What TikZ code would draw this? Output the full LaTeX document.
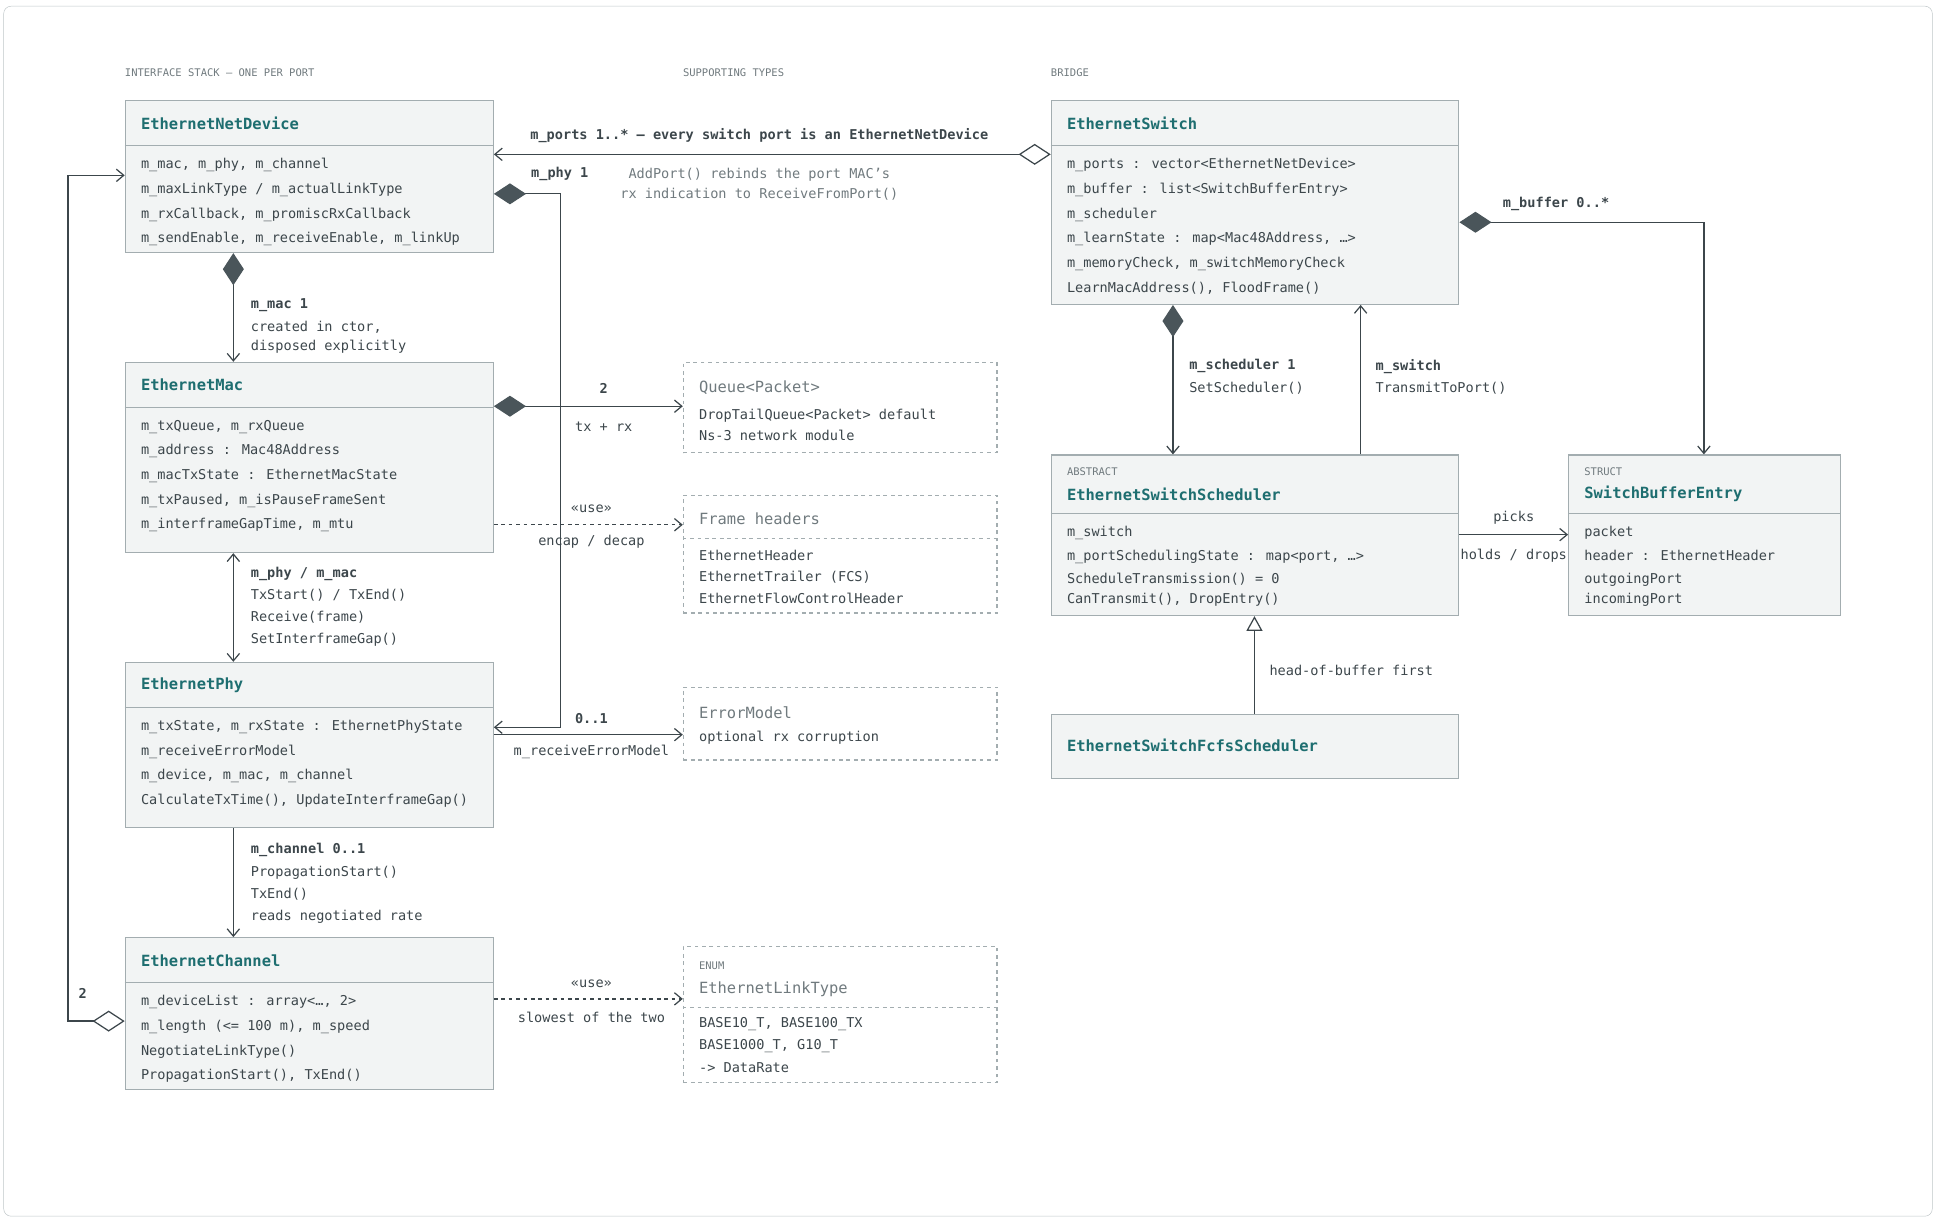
\documentclass[tikz,border=0pt]{standalone}
\usepackage{fontspec}
\setmainfont{DejaVu Sans Mono}
\setmonofont{DejaVu Sans Mono}
\usetikzlibrary{arrows.meta,positioning,calc}

\definecolor{boxfill}{HTML}{F2F4F4}
\definecolor{boxline}{HTML}{A3ADB0}
\definecolor{teal}{HTML}{1E6E70}
\definecolor{ink}{HTML}{3C464B}
\definecolor{mute}{HTML}{707A7E}
\definecolor{dia}{HTML}{4A555A}

\newcommand{\memfont}{\fontsize{11}{20}\selectfont}
\newcommand{\lblfont}{\fontsize{11}{18}\selectfont}

\begin{document}
\begin{tikzpicture}[x=1pt,y=-1pt,
    box/.style={draw=boxline,fill=boxfill,line width=1pt,anchor=north west,inner sep=0pt},
    dbox/.style={draw=boxline,fill=white,dashed,line width=1pt,anchor=north west,inner sep=0pt},
    title/.style={anchor=west,inner sep=0pt,font=\fontsize{12.5}{14}\selectfont\bfseries,text=teal},
    dtitle/.style={anchor=west,inner sep=0pt,font=\fontsize{12.5}{14}\selectfont,text=mute},
    tag/.style={anchor=west,inner sep=0pt,font=\fontsize{8.5}{10}\selectfont,text=mute},
    mem/.style={anchor=north west,align=left,inner sep=0pt,font=\memfont,text=ink},
    lbl/.style={anchor=north west,align=left,inner sep=0pt,font=\lblfont,text=ink},
    clbl/.style={inner sep=0pt,font=\lblfont,text=ink},
    edge/.style={draw=ink,line width=1pt,-{Stealth[open,length=9pt,width=9pt,fill=none]}},
    arr/.style={draw=ink,line width=1pt,-{Straight Barb[length=6pt,width=10pt]}},
    comp/.style={arr,{Diamond[length=26pt,width=17pt,fill=dia,color=dia]}-{Straight Barb[length=6pt,width=10pt]}},
    aggr/.style={arr,{Diamond[open,length=26pt,width=17pt,color=ink,fill=white]}-{Straight Barb[length=6pt,width=10pt]}},
    dep/.style={arr,dashed},
    inh/.style={draw=ink,line width=1pt,-{Triangle[open,length=12pt,width=13pt,fill=white]}},
  ]
  \useasboundingbox (0,0) rectangle (1568,989);
  \draw[draw=boxline!70,rounded corners=6pt] (3,5) rectangle (1565,985);

  % section headings
  \node[tag] (h1) at (101,59) {INTERFACE STACK — ONE PER PORT};
  \node[tag] (h2) at (553,59) {SUPPORTING TYPES};
  \node[tag] (h3) at (851,59) {BRIDGE};

  % interface stack
  \node[box,minimum width=298pt,minimum height=123pt] (nd) at (101,81) {};
  \draw[boxline,line width=1pt] (101,118) -- (399,118);
  \node[title] (nd-t) at (114,100) {EthernetNetDevice};
  \node[mem] (nd-m) at (114,128) {m\_mac, m\_phy, m\_channel\\m\_maxLinkType / m\_actualLinkType\\m\_rxCallback, m\_promiscRxCallback\\m\_sendEnable, m\_receiveEnable, m\_linkUp};

  \node[box,minimum width=298pt,minimum height=154pt] (mac) at (101,293) {};
  \draw[boxline,line width=1pt] (101,330) -- (399,330);
  \node[title] (mac-t) at (114,312) {EthernetMac};
  \node[mem] (mac-m) at (114,340) {m\_txQueue, m\_rxQueue\\m\_address : Mac48Address\\m\_macTxState : EthernetMacState\\m\_txPaused, m\_isPauseFrameSent\\m\_interframeGapTime, m\_mtu};

  \node[box,minimum width=298pt,minimum height=134pt] (phy) at (101,536) {};
  \draw[boxline,line width=1pt] (101,573) -- (399,573);
  \node[title] (phy-t) at (114,555) {EthernetPhy};
  \node[mem] (phy-m) at (114,583) {m\_txState, m\_rxState : EthernetPhyState\\m\_receiveErrorModel\\m\_device, m\_mac, m\_channel\\CalculateTxTime(), UpdateInterframeGap()};

  \node[box,minimum width=298pt,minimum height=123pt] (ch) at (101,759) {};
  \draw[boxline,line width=1pt] (101,796) -- (399,796);
  \node[title] (ch-t) at (114,778) {EthernetChannel};
  \node[mem] (ch-m) at (114,806) {m\_deviceList : array<…, 2>\\m\_length (<= 100 m), m\_speed\\NegotiateLinkType()\\PropagationStart(), TxEnd()};

  % supporting types
  \node[dbox,minimum width=254pt,minimum height=73pt] (q) at (553,293) {};
  \node[dtitle] (q-t) at (566,314) {Queue<Packet>};
  \node[mem,font=\fontsize{11}{17}\selectfont] (q-m) at (566,331) {DropTailQueue<Packet> default\\Ns-3 network module};

  \node[dbox,minimum width=254pt,minimum height=95pt] (fh) at (553,401) {};
  \draw[boxline,line width=1pt,dashed] (553,436) -- (807,436);
  \node[dtitle] (fh-t) at (566,420) {Frame headers};
  \node[mem,font=\fontsize{11}{17.5}\selectfont] (fh-m) at (566,445) {EthernetHeader\\EthernetTrailer (FCS)\\EthernetFlowControlHeader};

  \node[dbox,minimum width=254pt,minimum height=59pt] (em) at (553,556) {};
  \node[dtitle] (em-t) at (566,577) {ErrorModel};
  \node[mem] (em-m) at (566,592) {optional rx corruption};

  \node[dbox,minimum width=254pt,minimum height=110pt] (lt) at (553,766) {};
  \draw[boxline,line width=1pt,dashed] (553,816) -- (807,816);
  \node[tag] (lt-s) at (566,782) {ENUM};
  \node[dtitle] (lt-t) at (566,801) {EthernetLinkType};
  \node[mem,font=\fontsize{11}{18}\selectfont] (lt-m) at (566,824) {BASE10\_T, BASE100\_TX\\BASE1000\_T, G10\_T\\-> DataRate};

  % bridge
  \node[box,minimum width=330pt,minimum height=165pt] (sw) at (851,81) {};
  \draw[boxline,line width=1pt] (851,118) -- (1181,118);
  \node[title] (sw-t) at (864,100) {EthernetSwitch};
  \node[mem] (sw-m) at (864,128) {m\_ports : vector<EthernetNetDevice>\\m\_buffer : list<SwitchBufferEntry>\\m\_scheduler\\m\_learnState : map<Mac48Address, …>\\m\_memoryCheck, m\_switchMemoryCheck\\LearnMacAddress(), FloodFrame()};

  \node[box,minimum width=330pt,minimum height=130pt] (sc) at (851,368) {};
  \draw[boxline,line width=1pt] (851,416) -- (1181,416);
  \node[tag] (sc-s) at (864,382) {ABSTRACT};
  \node[title] (sc-t) at (864,400) {EthernetSwitchScheduler};
  \node[mem,font=\fontsize{11}{19}\selectfont] (sc-m) at (864,426) {m\_switch\\m\_portSchedulingState : map<port, …>\\ScheduleTransmission() = 0\\[-3pt]CanTransmit(), DropEntry()};

  \node[box,minimum width=220pt,minimum height=130pt] (be) at (1270,368) {};
  \draw[boxline,line width=1pt] (1270,416) -- (1490,416);
  \node[tag] (be-s) at (1283,382) {STRUCT};
  \node[title] (be-t) at (1283,400) {SwitchBufferEntry};
  \node[mem,font=\fontsize{11}{19}\selectfont] (be-m) at (1283,426) {packet\\header : EthernetHeader\\outgoingPort\\[-3pt]incomingPort};

  \node[box,minimum width=330pt,minimum height=52pt] (fc) at (851,578) {};
  \node[title] (fc-t) at (864,604) {EthernetSwitchFcfsScheduler};

  % stack connectors
  \draw[comp] (nd.south -| 189,0) -- (mac.north -| 189,0);
  \node[lbl] (l1) at (203,242) {\textbf{m\_mac 1}\\created in ctor,\\[-2pt]disposed explicitly};
  \draw[arr,{Straight Barb[length=6pt,width=10pt]}-{Straight Barb[length=6pt,width=10pt]}] (mac.south -| 189,0) -- (phy.north -| 189,0);
  \node[lbl] (l2) at (203,459) {\textbf{m\_phy / m\_mac}\\TxStart() / TxEnd()\\Receive(frame)\\SetInterframeGap()};
  \draw[arr] (phy.south -| 189,0) -- (ch.north -| 189,0);
  \node[lbl] (l3) at (203,683) {\textbf{m\_channel 0..1}\\PropagationStart()\\TxEnd()\\reads negotiated rate};
  \draw[aggr] (ch.west |- 0,827) -- (55,827) |- (nd.west |- 0,142);
  \node[clbl] (l4) at (67,805) {\textbf{2}};
  \draw[comp] (nd.east |- 0,157) -- (454,157) |- (phy.east |- 0,589);
  \node[clbl,anchor=west] (l5) at (430,141) {\textbf{m\_phy 1}};
  \draw[aggr] (sw.west |- 0,125) -- (nd.east |- 0,125);
  \node[clbl] (l6) at (615,110) {\textbf{m\_ports 1..* — every switch port is an EthernetNetDevice}};
  \node[clbl,align=center,text=mute] (l7) at (615,149) {AddPort() rebinds the port MAC's\\[-2pt]rx indication to ReceiveFromPort()};

  % supporting connectors
  \draw[comp] (mac.east |- 0,329) -- (q.west |- 0,329);
  \node[clbl] (l8) at (489,315) {\textbf{2}};
  \node[clbl] (l9) at (489,346) {tx + rx};
  \draw[dep] (mac.east |- 0,425) -- (fh.west |- 0,425);
  \node[clbl] (l10) at (479,412) {«use»};
  \node[clbl] (l11) at (479,439) {encap / decap};
  \draw[arr] (phy.east |- 0,595) -- (em.west |- 0,595);
  \node[clbl] (l12) at (479,582) {\textbf{0..1}};
  \node[clbl] (l13) at (479,609) {m\_receiveErrorModel};
  \draw[dep] (ch.east |- 0,809) -- (lt.west |- 0,809);
  \node[clbl] (l14) at (479,797) {«use»};
  \node[clbl] (l15) at (479,824) {slowest of the two};

  % bridge connectors
  \draw[comp] (sw.south -| 950,0) -- (sc.north -| 950,0);
  \node[lbl] (l16) at (963,291) {\textbf{m\_scheduler 1}\\SetScheduler()};
  \draw[arr] (sc.north -| 1102,0) -- (sw.south -| 1102,0);
  \node[lbl] (l17) at (1114,291) {\textbf{m\_switch}\\TransmitToPort()};
  \draw[comp] (sw.east |- 0,180) -- (1380,180) -- (be.north -| 1380,0);
  \node[clbl,anchor=west] (l18) at (1217,165) {\textbf{m\_buffer 0..*}};
  \draw[arr] (sc.east |- 0,433) -- (be.west |- 0,433);
  \node[clbl] (l19) at (1226,419) {picks};
  \node[clbl] (l20) at (1226,450) {holds / drops};
  \draw[inh] (fc.north -| 1016,0) -- (sc.south -| 1016,0);
  \node[clbl,anchor=west] (l21) at (1028,543) {head-of-buffer first};
\end{tikzpicture}
\end{document}
